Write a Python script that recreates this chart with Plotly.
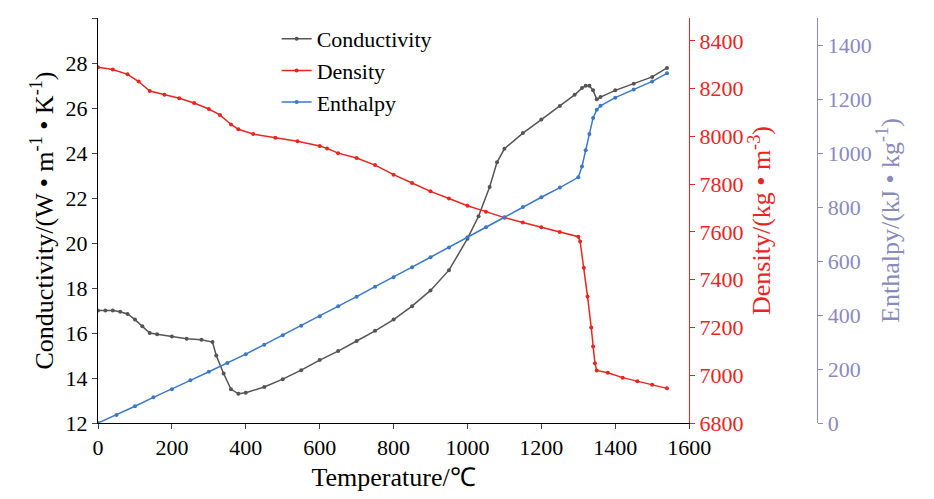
import plotly.graph_objects as go

# Conductivity (W/m/K)
t_cond = [0, 20, 40, 60, 80, 100, 120, 140, 160, 200, 240, 280, 310, 320, 340, 360, 380, 400, 450, 500,
          550, 600, 650, 700, 750, 800, 850, 900, 950, 1000, 1030, 1060, 1080, 1100, 1150, 1200, 1250,
          1290, 1310, 1320, 1330, 1340, 1350, 1360, 1400, 1450, 1500, 1540]
cond = [17.0, 17.0, 17.0, 16.95, 16.85, 16.6, 16.3, 16.0, 15.95, 15.85, 15.75, 15.7, 15.6, 15.0, 14.2,
        13.5, 13.3, 13.35, 13.6, 13.95, 14.35, 14.8, 15.2, 15.65, 16.1, 16.6, 17.2, 17.9, 18.8, 20.2,
        21.2, 22.5, 23.6, 24.2, 24.9, 25.5, 26.1, 26.6, 26.9, 27.0, 27.0, 26.8, 26.4, 26.5, 26.8, 27.1,
        27.4, 27.8]

# Density (kg/m3)
t_dens = [0, 40, 80, 110, 140, 180, 220, 260, 300, 330, 360, 380, 420, 480, 540, 600, 620, 650, 700, 750,
          800, 850, 900, 950, 1000, 1050, 1100, 1150, 1200, 1250, 1300, 1305, 1315, 1325, 1335, 1340,
          1345, 1350, 1380, 1420, 1460, 1500, 1540]
dens = [8290, 8280, 8260, 8230, 8190, 8175, 8160, 8140, 8115, 8090, 8050, 8030, 8010, 7995, 7980, 7960,
        7950, 7930, 7910, 7880, 7840, 7805, 7770, 7740, 7710, 7685, 7660, 7640, 7620, 7600, 7580, 7560,
        7450, 7330, 7200, 7120, 7050, 7020, 7010, 6990, 6975, 6960, 6945]

# Enthalpy (kJ/kg)
t_enth = [0, 50, 100, 150, 200, 250, 300, 350, 400, 450, 500, 550, 600, 650, 700, 750, 800, 850, 900, 950,
          1000, 1050, 1100, 1150, 1200, 1250, 1300, 1310, 1320, 1330, 1340, 1350, 1360, 1400, 1450, 1500, 1540]
enth = [0, 30, 62, 95, 125, 158, 190, 222, 255, 290, 325, 360, 395, 432, 468, 505, 540, 577, 614, 650,
        688, 725, 762, 800, 836, 872, 910, 950, 1010, 1070, 1130, 1160, 1175, 1205, 1235, 1265, 1295]

font = "Liberation Serif"
red = "#e8251f"
lav = "#8a8abf"

fig = go.Figure()
fig.add_trace(go.Scatter(x=t_cond, y=cond, name="Conductivity", mode="lines+markers",
                         line=dict(color="#555555", width=1.5), marker=dict(size=4, color="#555555")))
fig.add_trace(go.Scatter(x=t_dens, y=dens, name="Density", mode="lines+markers", yaxis="y2",
                         line=dict(color=red, width=1.5), marker=dict(size=4, color=red)))
fig.add_trace(go.Scatter(x=t_enth, y=enth, name="Enthalpy", mode="lines+markers", yaxis="y3",
                         line=dict(color="#3a78c8", width=1.5), marker=dict(size=4, color="#3a78c8")))

fig.update_layout(
    width=934, height=499, plot_bgcolor="white", paper_bgcolor="white",
    margin=dict(l=90, r=20, t=10, b=84),
    font=dict(family=font, size=22, color="black"),
    showlegend=True,
    legend=dict(x=0.22, y=1.0, xanchor="left", yanchor="top", bgcolor="rgba(0,0,0,0)",
                font=dict(size=22), tracegroupgap=0),
    xaxis=dict(domain=[0, 0.728], range=[0, 1600], dtick=200, showline=True, linecolor="black",
               ticks="outside", showgrid=False, zeroline=False,
               title=dict(text="Temperature/℃", standoff=8)),
    yaxis=dict(range=[12, 30.02], dtick=2, showline=True, linecolor="black", ticks="outside",
               showgrid=False, zeroline=False,
               title=dict(text="Conductivity/(W • m<sup>-1</sup> • K<sup>-1</sup>)", standoff=4)),
    yaxis2=dict(range=[6800, 8496], overlaying="y", side="right", anchor="x",
                dtick=200, showline=True, linecolor=red, ticks="outside", tickcolor=red,
                tickfont=dict(color=red), showgrid=False, zeroline=False,
                title=dict(text="Density/(kg • m<sup>-3</sup>)", font=dict(color=red), standoff=4)),
    yaxis3=dict(range=[0, 1500], overlaying="y", side="right", anchor="free", position=0.886,
                dtick=200, showline=True, linecolor=lav, ticks="outside", tickcolor=lav,
                tickfont=dict(color=lav), showgrid=False, zeroline=False,
                title=dict(text="Enthalpy/(kJ • kg<sup>-1</sup>)", font=dict(color=lav), standoff=4)),
)

fig.write_html("out.html")
